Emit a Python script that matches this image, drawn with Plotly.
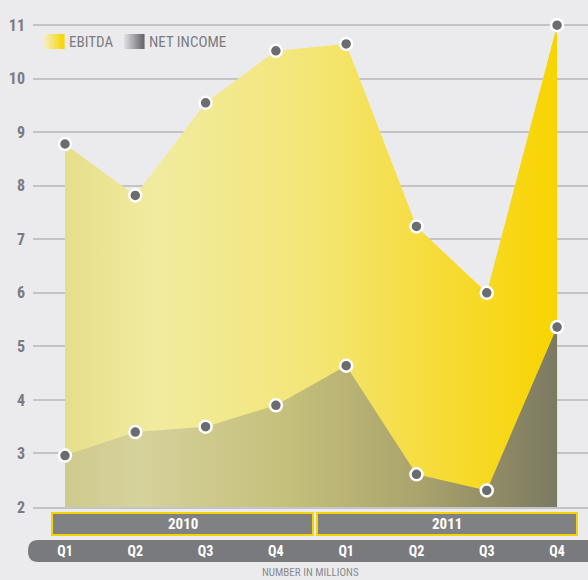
import plotly.graph_objects as go

# ---- data ----
quarters = ["Q1", "Q2", "Q3", "Q4", "Q1", "Q2", "Q3", "Q4"]
years = ["2010", "2011"]
ebitda = [8.78, 7.82, 9.55, 10.52, 10.65, 7.24, 6.0, 11.0]
net_income = [2.96, 3.40, 3.50, 3.90, 4.64, 2.61, 2.31, 5.36]
y_ticks = [2, 3, 4, 5, 6, 7, 8, 9, 10, 11]
x_idx = list(range(len(quarters)))

FONT = "Roboto Condensed, Roboto, sans-serif"
TXT = "#7b7b80"
BG = "#ebebed"
GRID = "#c4c4c7"

W, H = 588, 580
L, R, T, B = 33, 0, 23, 73
PW, PH = W - L - R, H - T - B


def px_x(px):
    return (px - L) / PW


def px_y(py):
    return (H - B - py) / PH


fig = go.Figure()

fig.add_trace(go.Scatter(
    x=x_idx, y=ebitda, mode="none", fill="tozeroy",
    fillgradient=dict(type="horizontal", colorscale=[
        [0, "#e6de8b"], [0.18, "#f1eb9f"], [0.5, "#f3e677"],
        [0.75, "#f6dc3a"], [1, "#f8d400"]]),
    hoverinfo="skip", showlegend=False))

fig.add_trace(go.Scatter(
    x=x_idx, y=net_income, mode="none", fill="tozeroy",
    fillgradient=dict(type="horizontal", colorscale=[
        [0, "#cfca8d"], [0.15, "#d5d29b"], [0.45, "#c6c07c"],
        [0.72, "#aaa36c"], [1, "#7b7962"]]),
    hoverinfo="skip", showlegend=False))

for vals in (ebitda, net_income):
    fig.add_trace(go.Scatter(
        x=x_idx, y=vals, mode="markers",
        marker=dict(size=12, color="#6b6c70", line=dict(color="white", width=2.5)),
        showlegend=False, cliponaxis=False, hoverinfo="skip"))

shapes = []
annotations = []


def hex2rgb(h):
    h = h.lstrip("#")
    return tuple(int(h[i:i + 2], 16) for i in (0, 2, 4))


def grad_swatch(x0px, x1px, y0px, y1px, c0, c1, n=12):
    a, b = hex2rgb(c0), hex2rgb(c1)
    step = (x1px - x0px) / n
    for i in range(n):
        t = i / (n - 1)
        col = "rgb(%d,%d,%d)" % tuple(round(a[k] + (b[k] - a[k]) * t) for k in range(3))
        shapes.append(dict(type="rect", xref="paper", yref="paper",
                           x0=px_x(x0px + i * step), x1=px_x(x0px + (i + 1) * step + 0.6),
                           y0=px_y(y1px), y1=px_y(y0px),
                           fillcolor=col, line=dict(width=0), layer="above"))


# legend
grad_swatch(44, 64, 34, 49, "#f2eec2", "#f8d600")
grad_swatch(124, 144, 34, 49, "#dcdce0", "#69696e")
annotations.append(dict(xref="paper", yref="paper", x=px_x(67), y=px_y(42),
                        xanchor="left", yanchor="middle", text="EBITDA", showarrow=False,
                        font=dict(family=FONT, size=15, color=TXT)))
annotations.append(dict(xref="paper", yref="paper", x=px_x(147), y=px_y(42),
                        xanchor="left", yanchor="middle", text="NET INCOME", showarrow=False,
                        font=dict(family=FONT, size=15, color=TXT)))

# year boxes
year_spans = [(52, 313), (317, 577)]
for yr, (a, b) in zip(years, year_spans):
    shapes.append(dict(type="rect", xref="paper", yref="paper",
                       x0=px_x(a), x1=px_x(b), y0=px_y(535), y1=px_y(513),
                       fillcolor="#808185", line=dict(color="#f7d300", width=2), layer="below"))
    annotations.append(dict(xref="paper", yref="paper", x=px_x((a + b) / 2), y=px_y(524),
                            xanchor="center", yanchor="middle", text=yr, showarrow=False,
                            font=dict(family=FONT, size=15, color="white", weight="bold")))

# quarter bar (rounded left end)
x0, x1 = px_x(28), px_x(600)
rx = 10 / PW
ytop, ybot, ymid = px_y(540), px_y(562), px_y(551)
shapes.append(dict(type="path", xref="paper", yref="paper",
                   path=(f"M {x0 + rx},{ytop} L {x1},{ytop} L {x1},{ybot} L {x0 + rx},{ybot} "
                         f"Q {x0},{ybot} {x0},{ymid} Q {x0},{ytop} {x0 + rx},{ytop} Z"),
                   fillcolor="#797a7e", line=dict(width=0), layer="below"))

annotations.append(dict(xref="paper", yref="paper", x=px_x(310), y=px_y(573),
                        xanchor="center", yanchor="middle", text="NUMBER IN MILLIONS",
                        showarrow=False, font=dict(family=FONT, size=11, color="#8a8a8e")))

fig.update_layout(
    width=W, height=H,
    margin=dict(l=L, r=R, t=T, b=B),
    paper_bgcolor=BG, plot_bgcolor=BG,
    shapes=shapes, annotations=annotations,
    showlegend=False,
    hovermode=False,
    xaxis=dict(range=[-0.455, 7.44], tickvals=x_idx, ticktext=quarters,
               showgrid=False, zeroline=False, showline=True, linecolor=GRID, linewidth=2,
               ticks="", ticklabelstandoff=30,
               tickfont=dict(family=FONT, size=14, color="white", weight="bold"),
               fixedrange=True),
    yaxis=dict(range=[2, 11.04], tickvals=y_ticks, showgrid=True, gridcolor=GRID,
               gridwidth=2, zeroline=False, showline=False, ticks="",
               ticklabelstandoff=7,
               tickfont=dict(family=FONT, size=16, color=TXT, weight="bold"),
               fixedrange=True),
)

fig.write_html("out.html", config={"displayModeBar": False},
               post_script="document.body.style.margin='0';document.body.style.overflow='hidden';")
